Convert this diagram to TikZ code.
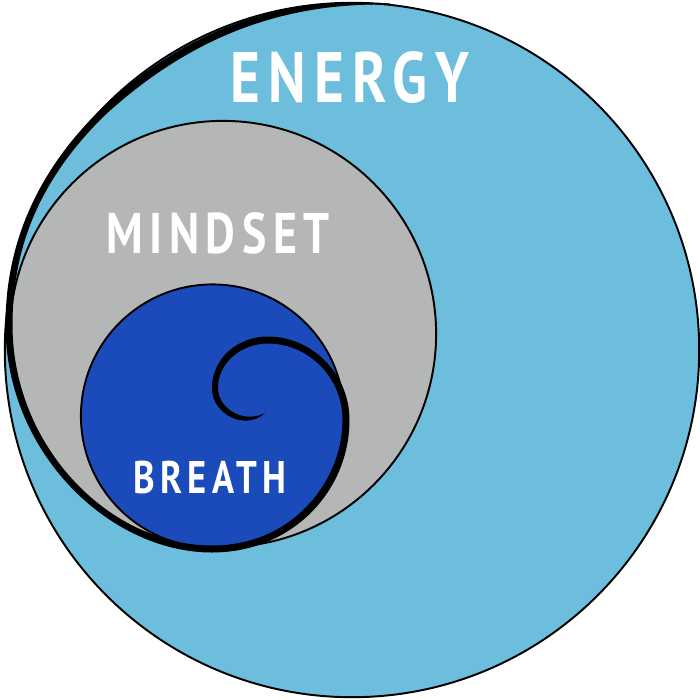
\documentclass[tikz,border=0pt]{standalone}
\usepackage{fontspec}
\newfontfamily\labelfont[LetterSpace=11.5,FakeStretch=0.8]{PT Sans}
\tikzset{
  ring/.style={draw=black, circle, inner sep=0pt, line width=0.55pt},
  ringlabel/.style={text=white, font=\labelfont\bfseries\fontsize{#1}{#1}\selectfont, inner sep=0pt},
  swirl/.style={fill=black, draw=none}
}
\definecolor{energyblue}{RGB}{108,190,220}
\definecolor{mindgray}{RGB}{181,182,182}
\definecolor{breathblue}{RGB}{27,75,187}

\begin{document}
\begin{tikzpicture}[x=0.01cm, y=-0.01cm]

\useasboundingbox (0,0) rectangle (700,700);

\node[ring, fill=energyblue, minimum size=6.94cm] (energy) at (352,350) {};
\node[ring, fill=mindgray, minimum size=4.26cm] (mindset) at (223,334) {};
\node[ring, fill=breathblue, minimum size=2.63cm] (breath) at (212.5,416) {};

\node[ringlabel=20.3pt] (energylabel) at (350,78) {ENERGY};
\node[ringlabel=16.3pt] (mindsetlabel) at (218,233) {MINDSET};
\node[ringlabel=13pt] (breathlabel) at (210,477) {BREATH};

% the spiral, outer edge inwards and inner edge back
\path[swirl] (390,3.5) .. controls (300,-2) and (198,16) .. (97.5,112.5)
  .. controls (32.5,177.5) and (5.5,250) .. (5.5,325)
  .. controls (5.5,453) and (110,552.5) .. (212,552.5)
  .. controls (292,552.5) and (349.5,491) .. (349.5,420)
  .. controls (349.5,373) and (311,336.5) .. (268,336.5)
  .. controls (238,336.5) and (212,358) .. (212,388)
  .. controls (212,415) and (246,431) .. (265,413)
  .. controls (244,424) and (218,409) .. (218,388)
  .. controls (218,362) and (242,343.5) .. (268,343.5)
  .. controls (308,343.5) and (342.5,377) .. (342.5,420)
  .. controls (342.5,488) and (288,545.5) .. (212,545.5)
  .. controls (110,545.5) and (12.5,447) .. (12.5,325)
  .. controls (12.5,250) and (37.5,182.5) .. (102.5,117.5)
  .. controls (202,25) and (300,3) .. (390,4.5) -- cycle;

\end{tikzpicture}
\end{document}
